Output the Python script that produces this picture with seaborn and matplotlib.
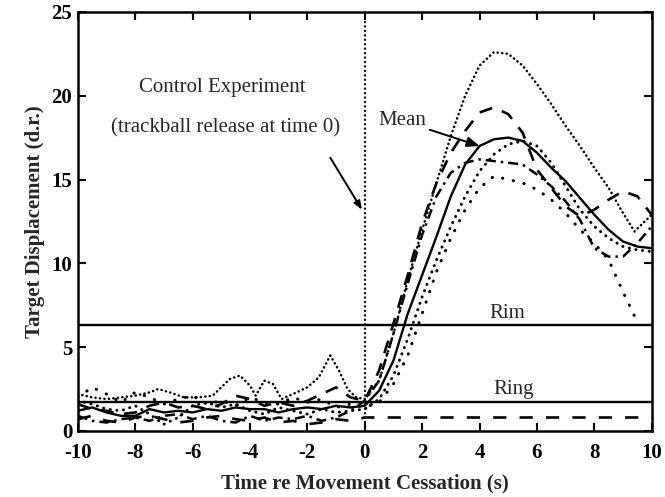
import numpy as np
import pandas as pd
import matplotlib
matplotlib.use("Agg")
import matplotlib.pyplot as plt
import seaborn as sns

# ---------------- data ----------------
TIME = [-10, -9.5, -9, -8.5, -8, -7.5, -7, -6.5, -6, -5.5, -5, -4.5, -4, -3.5,
        -3, -2.5, -2, -1.5, -1, -0.5, 0, 0.5, 1, 1.5, 2, 2.5, 3, 3.5, 4, 4.5,
        5, 5.5, 6, 6.5, 7, 7.5, 8, 8.5, 9, 9.5, 10]

mean_trace = [1.2, 1.4, 1.1, 0.9, 0.9, 1.3, 1.1, 1.2, 1.1, 1.3, 1.2, 1.4, 1.3, 1.3,
              1.1, 1.3, 1.4, 1.3, 1.5, 1.4, 1.5, 2.4, 4.2, 7.0, 9.3, 11.6, 14.0, 15.9,
              17.0, 17.4, 17.5, 17.3, 16.6, 15.7, 14.9, 13.9, 12.9, 12.0, 11.3, 11.0, 10.9]

trial_dash = [1.6, 1.3, 1.2, 1.0, 1.1, 1.5, 1.7, 1.4, 1.5, 1.3, 1.6, 2.1, 1.9, 1.5,
              1.7, 1.5, 1.8, 2.2, 2.6, 2.0, 1.8, 3.6, 6.4, 9.3, 12.4, 14.8, 16.6, 17.9,
              19.0, 19.3, 18.9, 17.8, 15.6, 14.5, 13.4, 12.8, 13.2, 13.8, 14.3, 14.0, 12.9]

trial_dashdot = [0.9, 0.6, 0.5, 0.7, 0.8, 0.6, 0.9, 1.0, 0.7, 0.9, 0.6, 0.5, 0.9, 0.6,
                 0.8, 0.7, 0.9, 0.6, 0.8, 1.2, 1.8, 3.0, 5.8, 8.8, 11.7, 14.0, 15.4, 16.0,
                 16.2, 16.1, 16.0, 15.9, 15.3, 14.6, 13.7, 12.6, 10.9, 10.4, 10.4, 11.2, 12.2]

trial_dots = [1.8, 1.6, 1.3, 1.2, 1.5, 1.0, 0.4, 0.8, 1.5, 1.7, 1.4, 1.6, 1.2, 1.0,
              1.4, 1.2, 1.0, 1.3, 1.1, 1.2, 1.3, 1.9, 3.3, 5.5, 8.0, 10.2, 12.2, 14.0,
              15.5, 16.5, 17.1, 17.3, 17.0, 16.0, 14.6, 13.2, 12.2, 11.5, 11.0, 10.8, 10.7]

trial_sparse = [2.0, 2.6, 2.2, 1.7, 2.3, 2.0, 1.6, 1.9, 2.1, 1.6, 1.8, 1.5, 2.0, 1.7,
                1.6, 2.0, 1.7, 1.9, 1.4, 1.6, 1.4, 1.7, 2.8, 4.5, 7.0, 9.5, 11.5, 13.2,
                14.5, 15.2, 15.0, 14.8, 14.4, 13.8, 13.0, 12.0, 11.2, 10.2, 8.3, 6.5, np.nan]

trial_flat = [0.7, 0.9, 0.6, 0.5, 0.8, 0.9, 0.7, 0.5, 0.6, 0.8, 0.9, 0.7, 0.6, 0.8,
              0.5, 0.6, 0.4, 0.5, 0.7, 0.6, 0.8, 0.8, 0.8, 0.8, 0.8, 0.8, 0.8, 0.8,
              0.8, 0.8, 0.8, 0.8, 0.8, 0.8, 0.8, 0.8, 0.8, 0.8, 0.8, 0.8, 0.8]

# big dotted trial has its own (finer) time base
big_time = [-10, -9.5, -9, -8.5, -8, -7.5, -7.2, -6.8, -6.3, -5.8, -5.3, -5.0, -4.7,
            -4.35, -4.0, -3.8, -3.5, -3.2, -2.9, -2.5, -2.0, -1.6, -1.2, -0.9, -0.6,
            -0.3, 0, 0.5, 1, 1.5, 2, 2.5, 3, 3.5, 4, 4.5, 5, 5.5, 6, 6.5, 7, 7.5,
            8, 8.5, 9, 9.4, 10]
big_dotted = [2.2, 2.0, 1.9, 2.0, 2.1, 2.3, 2.5, 2.3, 2.0, 2.0, 2.1, 2.6, 3.1,
              3.3, 2.7, 2.1, 3.0, 2.8, 1.9, 2.2, 2.6, 3.2, 4.5, 3.6, 2.5,
              2.0, 1.9, 3.0, 5.8, 9.0, 12.0, 14.8, 17.6, 20.0, 21.8, 22.6, 22.5, 21.8, 20.7, 19.5, 18.2, 17.0,
              15.7, 14.5, 13.0, 11.9, 12.9]

RIM = 6.3
RING = 1.7
X_TICKS = [-10, -8, -6, -4, -2, 0, 2, 4, 6, 8, 10]
Y_TICKS = [0, 5, 10, 15, 20, 25]

# ---------------- figure ----------------
sns.set_style("ticks")
plt.rcParams["font.family"] = ["Liberation Serif", "DejaVu Serif"]

fig = plt.figure(figsize=(6.65, 4.97), dpi=100)
ax = fig.add_axes([0.117, 0.133, 0.863, 0.843])

K = "black"
sns.lineplot(x=TIME, y=mean_trace, ax=ax, color=K, lw=1.7, estimator=None, sort=False)
sns.lineplot(x=TIME, y=trial_dash, ax=ax, color=K, lw=1.9, estimator=None, sort=False,
             linestyle=(0, (5, 4)))
sns.lineplot(x=TIME, y=trial_dashdot, ax=ax, color=K, lw=1.8, estimator=None, sort=False,
             linestyle=(0, (4, 2, 1, 2)))
sns.lineplot(x=TIME, y=trial_dots, ax=ax, color=K, lw=2.1, estimator=None, sort=False,
             linestyle=(0, (0.1, 2.2)), dash_capstyle="round")
sns.lineplot(x=TIME, y=trial_sparse, ax=ax, color=K, lw=2.2, estimator=None, sort=False,
             linestyle=(0, (0.1, 3.5)), dash_capstyle="round")
sns.lineplot(x=TIME, y=trial_flat, ax=ax, color=K, lw=1.9, estimator=None, sort=False,
             linestyle=(0, (5, 5)))
sns.lineplot(x=big_time, y=big_dotted, ax=ax, color=K, lw=1.8, estimator=None, sort=False,
             linestyle=(0, (0.1, 1.7)), dash_capstyle="round")

# reference lines
ax.axhline(RIM, color=K, lw=1.7)
ax.axhline(RING, color=K, lw=1.7)
ax.axvline(0, color=K, lw=1.6, linestyle=(0, (0.1, 1.9)), dash_capstyle="round")

# text
fs = 15
ax.text(-4.95, 20.5, "Control Experiment", ha="center", va="center", fontsize=fs)
ax.text(-4.85, 18.1, "(trackball release at time 0)", ha="center", va="center", fontsize=fs)
ax.text(4.95, 7.0, "Rim", ha="center", va="center", fontsize=fs)
ax.text(5.2, 2.45, "Ring", ha="center", va="center", fontsize=fs)
ax.annotate("Mean", xy=(4.0, 17.0), xytext=(2.15, 18.5), ha="right", va="center",
            fontsize=fs,
            arrowprops=dict(arrowstyle="-|>,head_length=0.5,head_width=0.2",
                            color=K, lw=1.4, shrinkA=0, shrinkB=0))
ax.annotate("", xy=(-0.1, 13.2), xytext=(-1.2, 16.3),
            arrowprops=dict(arrowstyle="-|>,head_length=0.5,head_width=0.2",
                            color=K, lw=1.4, shrinkA=0, shrinkB=0))

ax.set_xlim(-10, 10)
ax.set_ylim(0, 25)
ax.set_xticks(X_TICKS)
ax.set_yticks(Y_TICKS)
ax.set_xticklabels([str(t) for t in X_TICKS], fontsize=fs, fontweight="bold")
ax.set_yticklabels([str(t) for t in Y_TICKS], fontsize=fs, fontweight="bold")
ax.tick_params(direction="in", length=6, width=1.5, top=True, right=True, colors=K)
ax.tick_params(axis="x", pad=9)
ax.tick_params(axis="y", pad=4)
for lbl in ax.get_yticklabels():
    if lbl.get_text() == "0":
        lbl.set_verticalalignment("center_baseline")
ax.set_xlabel("Time re Movement Cessation (s)", fontsize=fs, fontweight="bold", labelpad=7)
ax.set_ylabel("Target Displacement (d.r.)", fontsize=fs, fontweight="bold", labelpad=5)
for s in ax.spines.values():
    s.set_visible(True)
    s.set_linewidth(1.8)
    s.set_color(K)

fig.savefig("out.png", dpi=100)
